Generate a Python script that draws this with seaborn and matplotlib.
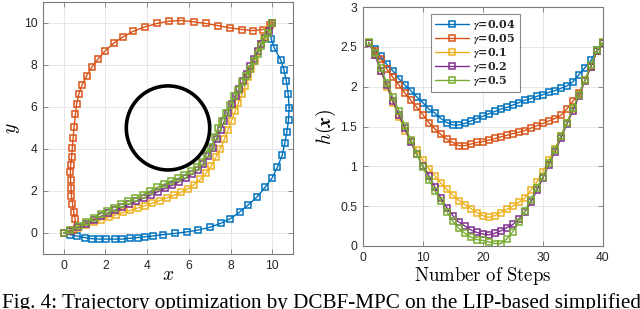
import numpy as np
import matplotlib
matplotlib.use('Agg')
import matplotlib.pyplot as plt
from matplotlib.patches import Circle
import seaborn as sns

# ── datos ────────────────────────────────────────────────────────────────────
gammas = ['0.04', '0.05', '0.1', '0.2', '0.5']
colores = ['#0072BD', '#D95319', '#EDB120', '#7E2F8E', '#77AC30']

# trayectorias (x, y)
x_b = [0, 0.3, 0.64, 1.0, 1.35, 1.7, 2.05, 2.44, 2.8, 3.18, 3.54, 3.9, 4.3, 4.75, 5.33, 5.89,
       6.46, 7.0, 7.52, 7.99, 8.44, 8.85, 9.28, 9.65, 10.0, 10.25, 10.48, 10.6, 10.7, 10.78,
       10.81, 10.76, 10.68, 10.56, 10.4, 10.1, 9.94, 10.0]
y_b = [0, -0.08, -0.14, -0.22, -0.27, -0.29, -0.29, -0.29, -0.29, -0.25, -0.22, -0.18, -0.14,
       -0.08, -0.02, 0.05, 0.14, 0.27, 0.46, 0.68, 1.0, 1.34, 1.72, 2.17, 2.63, 3.15, 3.71,
       4.27, 4.81, 5.38, 5.97, 6.62, 7.21, 7.77, 8.25, 8.8, 9.24, 10.0]

x_o = [0, 0.45, 0.55, 0.48, 0.42, 0.37, 0.35, 0.33, 0.32, 0.33, 0.38, 0.41, 0.45, 0.5, 0.56,
       0.62, 0.72, 0.88, 1.1, 1.35, 1.66, 2.0, 2.39, 2.83, 3.34, 3.89, 4.46, 5.06, 5.64, 6.24,
       6.82, 7.39, 7.99, 8.57, 9.08, 9.55, 9.9, 10.0]
y_o = [0, 0.15, 0.65, 1.0, 1.4, 1.78, 2.15, 2.52, 2.88, 3.23, 3.63, 4.03, 4.5, 5.06, 5.65,
       6.15, 6.6, 7.05, 7.48, 7.9, 8.3, 8.68, 9.03, 9.33, 9.6, 9.81, 9.97, 10.08, 10.11, 10.05,
       9.97, 9.87, 9.76, 9.68, 9.63, 9.68, 9.92, 10.0]

x_y = [0, 0.3, 0.7, 1.08, 1.45, 1.8, 2.15, 2.5, 2.85, 3.2, 3.55, 3.9, 4.25, 4.6, 4.95, 5.3,
       5.63, 5.95, 6.25, 6.55, 6.83, 7.08, 7.3, 7.5, 7.7, 7.88, 8.05, 8.22, 8.38, 8.55, 8.7,
       8.85, 9.0, 9.15, 9.3, 9.45, 9.62, 9.8, 10.0]
y_y = [0, 0.08, 0.22, 0.36, 0.5, 0.63, 0.75, 0.87, 0.98, 1.08, 1.19, 1.3, 1.42, 1.54, 1.67,
       1.8, 1.94, 2.1, 2.3, 2.55, 2.85, 3.2, 3.6, 4.0, 4.45, 4.9, 5.35, 5.8, 6.2, 6.6, 7.0,
       7.4, 7.8, 8.2, 8.6, 9.0, 9.35, 9.65, 10.0]

x_p = [0, 0.3, 0.7, 1.08, 1.45, 1.8, 2.12, 2.45, 2.8, 3.14, 3.48, 3.83, 4.18, 4.52, 4.86, 5.2,
       5.52, 5.84, 6.15, 6.44, 6.7, 6.93, 7.14, 7.33, 7.52, 7.7, 7.88, 8.06, 8.24, 8.42, 8.6,
       8.77, 8.95, 9.12, 9.3, 9.47, 9.65, 9.82, 10.0]
y_p = [0, 0.1, 0.27, 0.45, 0.63, 0.8, 0.95, 1.09, 1.23, 1.37, 1.51, 1.66, 1.81, 1.97, 2.12,
       2.27, 2.43, 2.6, 2.8, 3.02, 3.3, 3.65, 4.05, 4.47, 4.9, 5.32, 5.72, 6.12, 6.5, 6.87,
       7.23, 7.58, 7.95, 8.3, 8.65, 9.0, 9.3, 9.6, 10.0]

x_g = [0, 0.29, 0.72, 1.08, 1.45, 1.77, 2.09, 2.4, 2.77, 3.1, 3.44, 3.79, 4.14, 4.46, 4.81,
       5.13, 5.48, 5.78, 6.1, 6.39, 6.61, 6.85, 7.07, 7.26, 7.39, 7.58, 7.8, 7.98, 8.18, 8.38,
       8.57, 8.76, 8.92, 9.11, 9.3, 9.47, 9.63, 9.81, 10.0]
y_g = [0, 0.13, 0.32, 0.53, 0.73, 0.92, 1.05, 1.21, 1.37, 1.51, 1.66, 1.82, 1.99, 2.17, 2.32,
       2.47, 2.6, 2.75, 2.93, 3.15, 3.39, 3.76, 4.11, 4.59, 4.98, 5.35, 5.73, 6.1, 6.5, 6.82,
       7.17, 7.48, 7.8, 8.17, 8.52, 8.89, 9.24, 9.52, 10.0]

obst_c = (5, 5)
obst_r = 2

# h(x) por paso
pasos = list(range(1, 41))
h_b = [2.55, 2.48, 2.38, 2.28, 2.2, 2.1, 2.02, 1.95, 1.87, 1.8, 1.72, 1.67, 1.6, 1.55, 1.52,
       1.52, 1.54, 1.57, 1.6, 1.63, 1.66, 1.69, 1.72, 1.74, 1.77, 1.8, 1.83, 1.85, 1.88, 1.9,
       1.93, 1.95, 1.98, 2.01, 2.06, 2.15, 2.24, 2.33, 2.46, 2.55]
h_o = [2.55, 2.45, 2.35, 2.22, 2.12, 2.02, 1.92, 1.83, 1.74, 1.65, 1.55, 1.47, 1.4, 1.34, 1.3,
       1.26, 1.26, 1.28, 1.3, 1.31, 1.33, 1.35, 1.37, 1.39, 1.41, 1.43, 1.45, 1.48, 1.51, 1.54,
       1.57, 1.6, 1.64, 1.72, 1.82, 1.92, 2.08, 2.25, 2.45, 2.55]
h_y = [2.55, 2.4, 2.2, 2.0, 1.8, 1.62, 1.45, 1.32, 1.2, 1.08, 0.97, 0.88, 0.79, 0.71, 0.64,
       0.57, 0.52, 0.47, 0.42, 0.38, 0.36, 0.38, 0.42, 0.46, 0.5, 0.55, 0.6, 0.7, 0.8, 0.93,
       1.08, 1.22, 1.38, 1.55, 1.72, 1.9, 2.08, 2.25, 2.45, 2.55]
h_p = [2.55, 2.4, 2.2, 2.02, 1.82, 1.65, 1.48, 1.3, 1.15, 1.0, 0.88, 0.74, 0.6, 0.48, 0.38,
       0.3, 0.25, 0.2, 0.17, 0.15, 0.14, 0.16, 0.19, 0.23, 0.27, 0.34, 0.43, 0.55, 0.7, 0.85,
       1.02, 1.18, 1.35, 1.53, 1.7, 1.88, 2.07, 2.25, 2.45, 2.55]
h_g = [2.56, 2.42, 2.23, 2.05, 1.87, 1.7, 1.51, 1.33, 1.15, 0.99, 0.83, 0.69, 0.57, 0.43, 0.31,
       0.22, 0.16, 0.11, 0.08, 0.07, 0.05, 0.03, 0.03, 0.09, 0.18, 0.3, 0.44, 0.58, 0.73, 0.87,
       1.04, 1.2, 1.38, 1.55, 1.73, 1.9, 2.08, 2.27, 2.46, 2.56]

trayectorias = [(x_b, y_b), (x_o, y_o), (x_y, y_y), (x_p, y_p), (x_g, y_g)]
hs = [h_b, h_o, h_y, h_p, h_g]

# ── estilo ───────────────────────────────────────────────────────────────────
sns.set_theme(style='white')
plt.rcParams['font.family'] = ['Liberation Sans', 'DejaVu Sans']
plt.rcParams['mathtext.fontset'] = 'cm'

GRIS = '#262626'

def estilo(ax):
    ax.grid(True, color='#e3e3e3', linewidth=0.6)
    ax.set_axisbelow(True)
    for sp in ax.spines.values():
        sp.set_edgecolor('#7a7a7a'); sp.set_linewidth(0.8); sp.set_visible(True)
    ax.tick_params(direction='in', length=3.5, width=0.6, colors='#7a7a7a',
                   labelcolor=GRIS, labelsize=8.7, top=True, right=True,
                   bottom=True, left=True, pad=4)

def marcas(ax, x, y, color, label=None):
    sns.lineplot(x=x, y=y, sort=False, estimator=None, ax=ax, color=color,
                 linewidth=1.0, marker='s', markersize=4.3, markeredgewidth=1.1,
                 markeredgecolor=color, markerfacecolor='none', label=label)
    ax.lines[-1].set_markerfacecolor('none')

fig = plt.figure(figsize=(6.4, 3.09), dpi=100)
fig.patch.set_facecolor('white')

# panel izquierdo: trayectorias
ax1 = fig.add_axes([0.067, 0.178, 0.391, 0.816])
estilo(ax1)
for (xs, ys), c in zip(trayectorias, colores):
    marcas(ax1, xs, ys, c)
ax1.add_patch(Circle(obst_c, obst_r, fill=False, edgecolor='black', linewidth=2.6, zorder=5))
ax1.set_xlim(-1, 11); ax1.set_ylim(-1, 11)
ax1.set_xticks([0, 2, 4, 6, 8, 10]); ax1.set_yticks([0, 2, 4, 6, 8, 10])
ax1.set_xlabel('$x$', fontsize=14, labelpad=-3, color='black')
ax1.set_ylabel('$y$', fontsize=14, labelpad=1, color='black')

# panel derecho: h(x)
ax2 = fig.add_axes([0.567, 0.204, 0.375, 0.773])
estilo(ax2)
for h, c, g in zip(hs, colores, gammas):
    marcas(ax2, pasos, h, c, label=r'$\boldsymbol{\gamma}$=' + g)
ax2.set_xlim(0, 40); ax2.set_ylim(0, 3)
ax2.set_xticks([0, 10, 20, 30, 40]); ax2.set_yticks([0, 0.5, 1, 1.5, 2, 2.5, 3])
ax2.set_yticklabels(['0', '0.5', '1', '1.5', '2', '2.5', '3'])
ax2.set_xlabel(r'$\mathrm{Number\ of\ Steps}$', fontsize=13.5, labelpad=1, color='black')
ax2.set_ylabel(r'$h(\boldsymbol{x})$', fontsize=14, labelpad=2, color='black')
leg = ax2.legend(loc='upper left', bbox_to_anchor=(0.262, 0.995),
                 prop={'family': ['DejaVu Serif'], 'weight': 'bold', 'size': 8.0},
                 handlelength=3.0, handletextpad=0.4, labelspacing=0.0,
                 borderpad=0.35, frameon=True, fancybox=False)
leg.get_frame().set_edgecolor('#6a6a6a'); leg.get_frame().set_linewidth(0.8)

# pie de figura (cortado en el borde inferior)
fig.text(0.003, 0.052, 'Fig. 4: Trajectory optimization by DCBF-MPC on the LIP-based simplified',
         family=['Liberation Serif', 'DejaVu Serif'], fontsize=15.2, va='top', ha='left',
         color='black')

fig.savefig('out.png', dpi=100, facecolor='white')
